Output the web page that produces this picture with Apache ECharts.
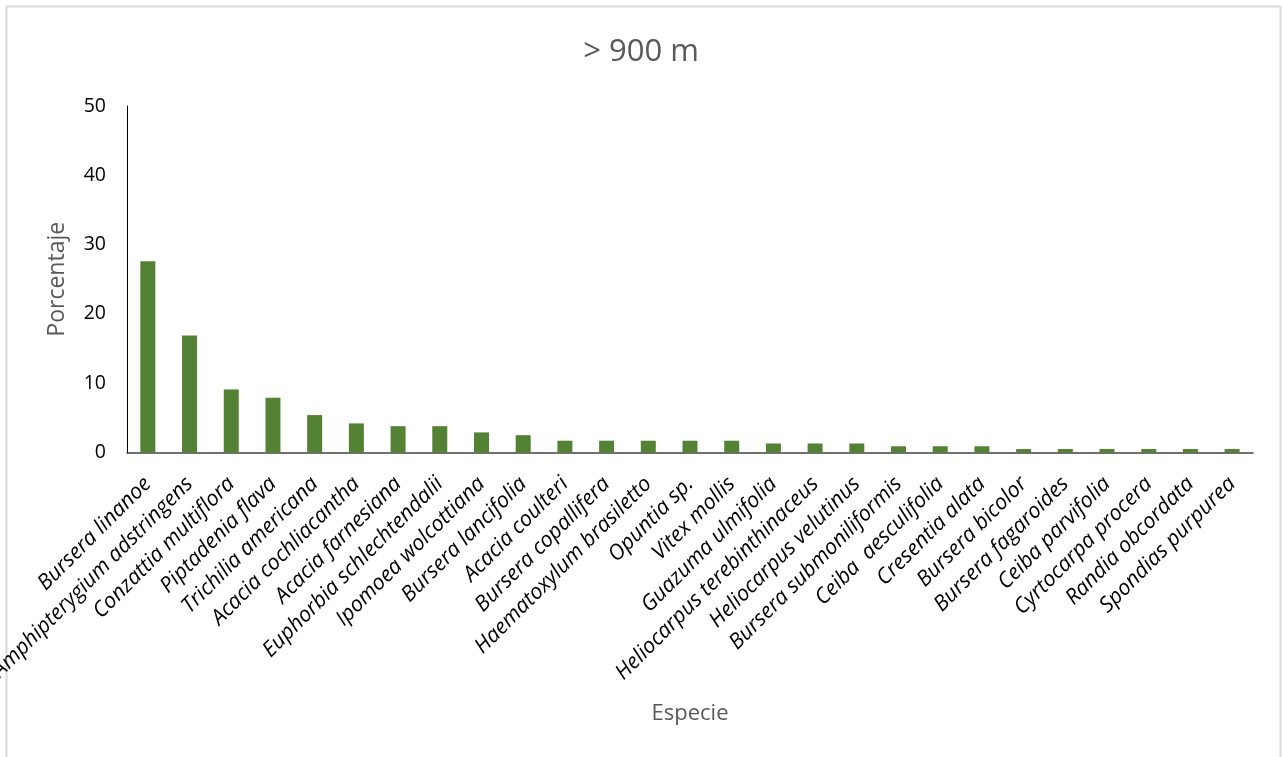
<!DOCTYPE html>
<html>
<head>
<meta charset="utf-8">
<title>&gt; 900 m</title>
<script src="https://cdn.jsdelivr.net/npm/echarts@6/dist/echarts.min.js"></script>
<style>
  html, body { margin: 0; padding: 0; background: #ffffff; }
  #chart { width: 1282px; height: 757px; }
</style>
</head>
<body>
<div id="chart"></div>
<script>
// Species (x categories) and their percentage share
const species = [
  'Bursera linanoe',
  'Amphipterygium adstringens',
  'Conzattia multiflora',
  'Piptadenia flava',
  'Trichilia americana',
  'Acacia cochliacantha',
  'Acacia farnesiana',
  'Euphorbia schlechtendalii',
  'Ipomoea wolcottiana',
  'Bursera lancifolia',
  'Acacia coulteri',
  'Bursera copallifera',
  'Haematoxylum brasiletto',
  'Opuntia sp.',
  'Vitex mollis',
  'Guazuma ulmifolia',
  'Heliocarpus terebinthinaceus',
  'Heliocarpus velutinus',
  'Bursera submoniliformis',
  'Ceiba  aesculifolia',
  'Cresentia alata',
  'Bursera bicolor',
  'Bursera fagaroides',
  'Ceiba parvifolia',
  'Cyrtocarpa procera',
  'Randia obcordata',
  'Spondias purpurea'
];

const porcentaje = [
  27.6, 16.9, 9.1, 7.9, 5.4, 4.2, 3.8, 3.8, 2.9, 2.5,
  1.7, 1.7, 1.7, 1.7, 1.7,
  1.3, 1.3, 1.3,
  0.9, 0.9, 0.9,
  0.5, 0.5, 0.5, 0.5, 0.5, 0.5
];

const yTicks = [0, 10, 20, 30, 40, 50];

const chartTitle = '> 900 m';
const xAxisName = 'Especie';
const yAxisName = 'Porcentaje';

const FONT = '"Open Sans", "Liberation Sans", sans-serif';
const GREY = '#595959';

const chart = echarts.init(document.getElementById('chart'), null, { renderer: 'canvas' });

chart.setOption({
  backgroundColor: '#ffffff',
  animation: false,
  graphic: [{
    type: 'rect',
    shape: { x: 6.5, y: 6.5, width: 1274, height: 770 },
    style: { fill: 'none', stroke: '#d9d9d9', lineWidth: 2 },
    silent: true,
    z: -10
  }],
  title: {
    text: chartTitle,
    left: 'center',
    top: 32,
    textStyle: { fontFamily: FONT, fontSize: 31, fontWeight: 'normal', color: GREY }
  },
  grid: {
    left: 127, right: 29, top: 106, bottom: 304.5,
    containLabel: false,
    outerBoundsMode: 'none'
  },
  xAxis: {
    type: 'category',
    data: species,
    name: xAxisName,
    nameLocation: 'middle',
    nameGap: 250,
    nameTextStyle: { fontFamily: FONT, fontSize: 22, color: GREY },
    axisLine: { show: true, lineStyle: { color: '#404040', width: 1.5 } },
    axisTick: { show: false },
    axisLabel: {
      interval: 0,
      rotate: 45,
      margin: 28,
      fontFamily: FONT,
      fontStyle: 'italic',
      fontSize: 21.5,
      color: '#000000'
    }
  },
  yAxis: {
    type: 'value',
    min: yTicks[0],
    max: yTicks[yTicks.length - 1],
    interval: yTicks[1] - yTicks[0],
    name: yAxisName,
    nameLocation: 'middle',
    nameGap: 58,
    nameTextStyle: { fontFamily: FONT, fontSize: 23, color: GREY },
    axisLine: { show: true, lineStyle: { color: '#000000', width: 1 } },
    axisTick: { show: false },
    splitLine: { show: false },
    axisLabel: { margin: 21, fontFamily: FONT, fontSize: 19.5, color: '#000000' }
  },
  series: [{
    type: 'bar',
    data: porcentaje,
    barWidth: 15,
    itemStyle: { color: '#548235' }
  }]
});
</script>
</body>
</html>
